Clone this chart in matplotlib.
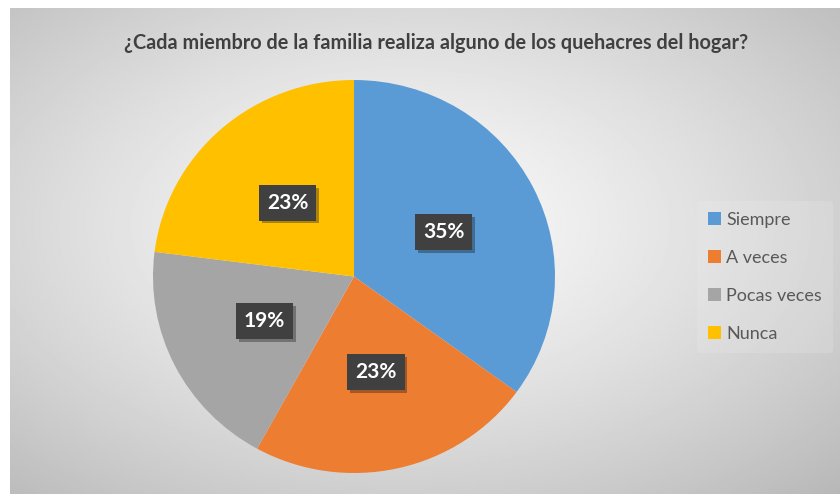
import numpy as np
import matplotlib
matplotlib.use("Agg")
import matplotlib.pyplot as plt
import matplotlib.patheffects as pe
from matplotlib.patches import Patch

# datos
categorias = ["Siempre", "A veces", "Pocas veces", "Nunca"]
valores = [35, 23, 19, 23]
colores = ["#5B9BD5", "#ED7D31", "#A5A5A5", "#FFC000"]
titulo = "¿Cada miembro de la familia realiza alguno de los quehacres del hogar?"

W, H = 840, 494
fig = plt.figure(figsize=(W / 100, H / 100), dpi=100)
fig.patch.set_facecolor("white")

# fondo con degradado radial
bg = fig.add_axes([10 / W, 0, 830 / W, 486 / H])
bg.set_axis_off()
yy, xx = np.mgrid[-1:1:300j, -1:1:500j]
d = np.sqrt(((xx + 0.06) / 1.0) ** 2 + ((yy + 0.1) / 1.0) ** 2)
v = np.clip(0.98 - 0.15 * d ** 1.3, 0, 1)
bg.imshow(v, cmap="gray", vmin=0, vmax=1, aspect="auto", extent=[0, 1, 0, 1])
bg.set_xlim(0, 1)
bg.set_ylim(0, 1)

fig.text(436 / W, 1 - 43 / H, titulo, ha="center", va="center",
         fontsize=14.3, fontweight="bold", color="#404040", family="Lato")

# pastel
ax = fig.add_axes([153 / W, 21 / H, 402 / W, 393 / H])
wedges, _, autotexts = ax.pie(
    valores, colors=colores, startangle=90, counterclock=False,
    autopct="%1.0f%%", pctdistance=0.5,
    wedgeprops=dict(linewidth=0),
)
ax.set_aspect("auto")
ax.set_xlim(-1, 1)
ax.set_ylim(-1, 1)
ax.set_axis_off()

for t in autotexts:
    t.set_color("white")
    t.set_fontsize(15)
    t.set_fontweight("bold")
    t.set_family("Lato")
    t.set_bbox(dict(boxstyle="square,pad=0.38", facecolor="#404040", edgecolor="none"))
    t.get_bbox_patch().set_path_effects([
        pe.SimplePatchShadow(offset=(2, -2), alpha=0.35),
        pe.Normal(),
    ])

handles = [Patch(facecolor=c, edgecolor="none") for c in colores]
leg = fig.legend(handles, categorias, loc="center left",
                 bbox_to_anchor=(688 / W, 1 - 277 / H),
                 frameon=True, labelspacing=1.22,
                 handlelength=0.72, handleheight=0.72, handletextpad=0.3,
                 borderpad=0.6,
                 prop={"family": "Lato", "size": 13})
leg.get_frame().set_facecolor("#f0f0f0")
leg.get_frame().set_edgecolor("none")
leg.get_frame().set_alpha(0.2)
for txt in leg.get_texts():
    txt.set_color("#595959")

fig.savefig("out.png", dpi=100)
